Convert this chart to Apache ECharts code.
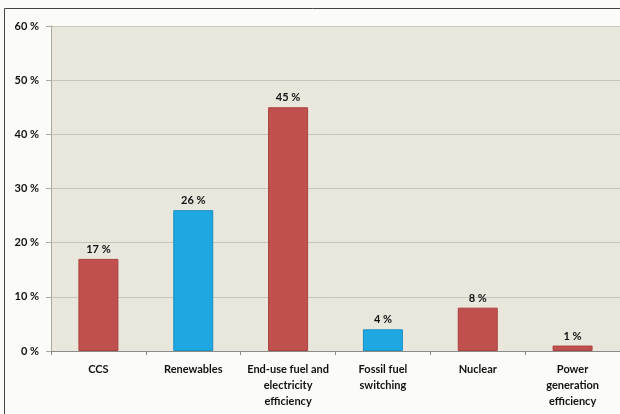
<!DOCTYPE html>
<html>
<head>
<meta charset="utf-8">
<script src="https://cdn.jsdelivr.net/npm/echarts@6/dist/echarts.min.js"></script>
<style>
  html, body { margin: 0; padding: 0; background: #fbfbf8; }
  #chart { width: 620px; height: 414px; }
</style>
</head>
<body>
<div id="chart"></div>
<script>
// Share of emission reductions by technology option
const categories = ['CCS', 'Renewables', 'End-use fuel and\nelectricity\nefficiency', 'Fossil fuel\nswitching', 'Nuclear', 'Power\ngeneration\nefficiency'];
const values = [17, 26, 45, 4, 8, 1];
const barColors = ['#c0504d', '#1ea7e1', '#c0504d', '#1ea7e1', '#c0504d', '#c0504d'];
const yTicks = [0, 10, 20, 30, 40, 50, 60];

const chart = echarts.init(document.getElementById('chart'));
const font = 'Lato, "Open Sans", sans-serif';

chart.setOption({
  animation: false,
  backgroundColor: '#fbfbf8',
  graphic: [
    { type: 'line', shape: { x1: 4.5, y1: 8.5, x2: 4.5, y2: 414 }, style: { stroke: '#444', lineWidth: 1 } },
    { type: 'line', shape: { x1: 4.5, y1: 8.5, x2: 620, y2: 8.5 }, style: { stroke: '#444', lineWidth: 1 } }
  ],
  grid: {
    left: 51, right: -2, top: 26, bottom: 63,
    show: true, backgroundColor: '#e9e6dc', borderWidth: 0
  },
  xAxis: {
    type: 'category',
    data: categories,
    axisLine: { lineStyle: { color: '#8a8a86', width: 1 } },
    axisTick: { show: true, length: 4, lineStyle: { color: '#8a8a86' } },
    axisLabel: {
      interval: 0, color: '#111', fontFamily: font, fontWeight: 'bold',
      fontSize: 11, lineHeight: 16, margin: 10, align: 'center'
    }
  },
  yAxis: {
    type: 'value',
    min: yTicks[0], max: yTicks[yTicks.length - 1], interval: 10,
    axisLine: { show: true, lineStyle: { color: '#a9a8a2', width: 1 } },
    axisTick: { show: true, length: 5, lineStyle: { color: '#a9a8a2' } },
    splitLine: { lineStyle: { color: '#c7c5bc', width: 1 } },
    axisLabel: {
      color: '#111', fontFamily: font, fontWeight: 'bold', fontSize: 11, margin: 12,
      formatter: v => v + ' %'
    }
  },
  series: [{
    type: 'bar',
    data: values.map((v, i) => ({
      value: v,
      itemStyle: { color: barColors[i], borderColor: barColors[i] === '#c0504d' ? '#a9423f' : '#1a8fc2', borderWidth: 1 }
    })),
    barWidth: 40,
    label: {
      show: true, position: 'top', distance: 4,
      color: '#111', fontFamily: font, fontWeight: 'bold', fontSize: 11,
      formatter: p => p.value + ' %'
    }
  }]
});
</script>
</body>
</html>
